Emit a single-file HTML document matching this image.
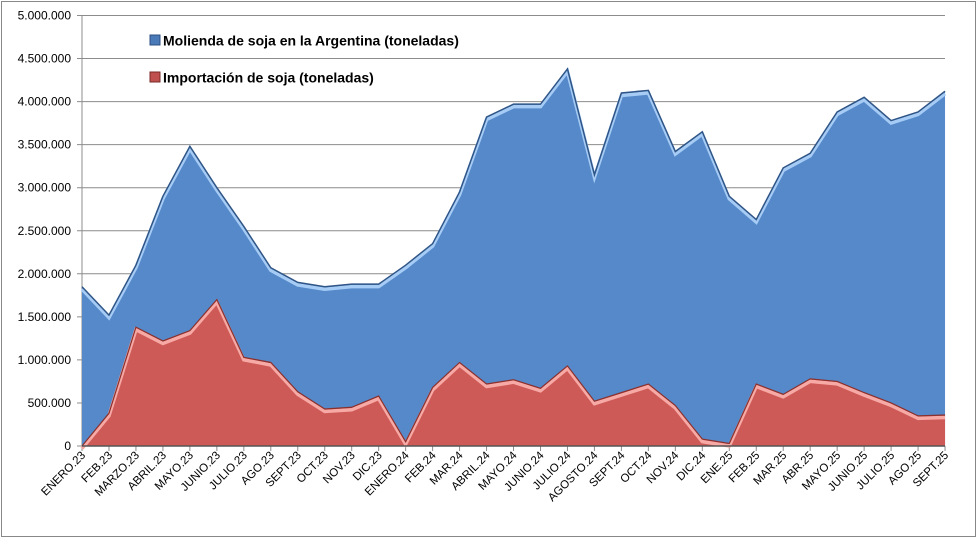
<!DOCTYPE html>
<html><head><style>body{margin:0;background:#fff}svg{display:block;font-family:"Liberation Sans",sans-serif}</style></head>
<body>
<svg id="s" width="979" height="544" viewBox="0 0 979 544" xmlns="http://www.w3.org/2000/svg">
<rect x="1.5" y="1.5" width="974" height="535" fill="#fff" stroke="#888" stroke-width="1"/>
<g id="grid"></g>
<g id="areas"></g>
<g id="labels" font-size="11.5" fill="#000"></g>
<g font-weight="bold" font-size="14">
<rect x="150" y="35" width="10" height="10" fill="#4a7ab8" stroke="#2c4f80"/>
<text x="163" y="45.5">Molienda de soja en la Argentina (toneladas)</text>
<rect x="150" y="72" width="10" height="10" fill="#c0504d" stroke="#7a2a28"/>
<text x="163" y="82.5">Importación de soja (toneladas)</text>
</g>
</svg>
<script>
const x0=82,dx=26.97,y0=446,sc=430.5/5e6;
const X=i=>x0+i*dx,Y=v=>y0-v*1e6*sc;
const labs=["ENERO.23","FEB.23","MARZO.23","ABRIL.23","MAYO.23","JUNIO.23","JULIO.23","AGO.23","SEPT.23","OCT.23","NOV.23","DIC.23","ENERO.24","FEB.24","MAR.24","ABRIL.24","MAYO.24","JUNIO.24","JULIO.24","AGOSTO.24","SEPT.24","OCT.24","NOV.24","DIC.24","ENE.25","FEB.25","MAR.25","ABR.25","MAYO.25","JUNIO.25","JULIO.25","AGO.25","SEPT.25"];
const b=[1.85,1.52,2.1,2.9,3.48,3.0,2.55,2.07,1.9,1.85,1.88,1.88,2.1,2.35,2.95,3.82,3.97,3.97,4.38,3.15,4.1,4.13,3.42,3.65,2.9,2.63,3.23,3.4,3.88,4.05,3.78,3.88,4.12];
const r=[0,0.38,1.38,1.22,1.34,1.7,1.03,0.97,0.63,0.43,0.45,0.58,0.05,0.68,0.97,0.72,0.77,0.67,0.93,0.52,0.62,0.72,0.47,0.08,0.03,0.72,0.6,0.78,0.75,0.62,0.5,0.35,0.36];
let g="",l="";
for(let k=0;k<=10;k++){const y=y0-k*43.05;g+=`<line x1="77" x2="945" y1="${y}" y2="${y}" stroke="#8c8c8c"/>`;
const v=k*500000;l+=`<text x="71" y="${y+4}" text-anchor="end" font-size="12">${v==0?"0":v.toLocaleString("de-DE")}</text>`;}
g+=`<line x1="82" x2="82" y1="16" y2="446" stroke="#8c8c8c"/>`;
for(let i=0;i<33;i++){g+=`<line x1="${X(i)}" x2="${X(i)}" y1="446" y2="451" stroke="#8c8c8c"/>`;
l+=`<text transform="translate(${X(i)+4},456) rotate(-45)" text-anchor="end">${labs[i]}</text>`;}
document.getElementById("grid").innerHTML=g;
const pts=a=>a.map((v,i)=>`${X(i)},${Y(v)}`).join(" ");
let a=`<polygon points="${X(0)},${y0} ${pts(b)} ${X(32)},${y0}" fill="#5589c9"/>`;
a+=`<polyline points="${pts(b)}" fill="none" stroke="#a6ccf6" stroke-width="3.5" transform="translate(0,2.5)"/>`;
a+=`<polyline points="${pts(b)}" fill="none" stroke="#2f5587" stroke-width="1.5"/>`;
a+=`<polygon points="${X(0)},${y0} ${pts(r)} ${X(32)},${y0}" fill="#cd5a57"/>`;
a+=`<polyline points="${pts(r)}" fill="none" stroke="#f7a9a5" stroke-width="3.5" transform="translate(0,2.5)"/>`;
a+=`<polyline points="${pts(r)}" fill="none" stroke="#8a302d" stroke-width="1.2"/>`;
a+=`<line x1="82" x2="945" y1="446" y2="446" stroke="#555" stroke-width="1.5"/>`;
document.getElementById("areas").innerHTML=a;
document.getElementById("labels").innerHTML=l;
</script>
</body></html>
